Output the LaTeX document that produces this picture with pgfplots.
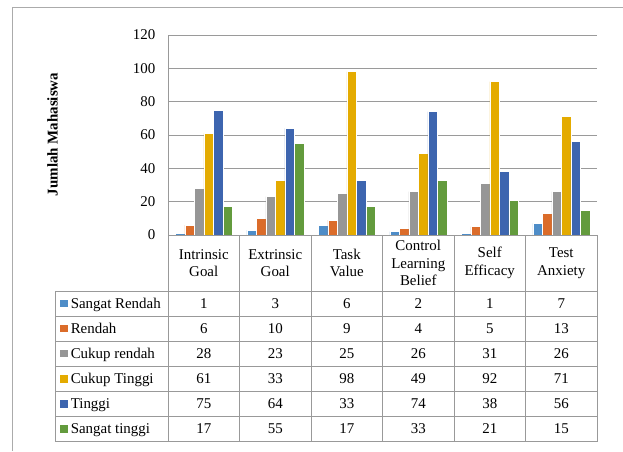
\documentclass[border=0pt]{standalone}
\usepackage{pgfplots}
\pgfplotsset{compat=1.18}
\usepackage{pgfplotstable}
\usepackage{fontspec}
\setmainfont{Liberation Serif}
\definecolor{cSR}{HTML}{4E8DC8}
\definecolor{cR}{HTML}{DB6C2A}
\definecolor{cCR}{HTML}{969696}
\definecolor{cCT}{HTML}{E4AB00}
\definecolor{cT}{HTML}{3D65AF}
\definecolor{cST}{HTML}{639B3D}
\definecolor{gridc}{HTML}{9A9A9A}
\definecolor{tablec}{HTML}{999999}
\definecolor{framec}{HTML}{ABABAB}
\newcommand\tabfont{\fontsize{11.2}{13.1}\selectfont}
\pgfplotstableread{
cat SR R CR CT T ST
0 1 6 28 61 75 17
1 3 10 23 33 64 55
2 6 9 25 98 33 17
3 2 4 26 49 74 33
4 1 5 31 92 38 21
5 7 13 26 71 56 15
}\datatable
\begin{document}
\begin{tikzpicture}[x=0.75pt,y=-0.75pt]
\useasboundingbox (0,0) rectangle (623,451);
\begin{axis}[
  at={(126pt,-176.25pt)}, anchor=south west,
  scale only axis, width=321.75pt, height=150pt,
  xmin=-0.5, xmax=5.5, ymin=0, ymax=120,
  ytick={0,20,...,120}, xtick=\empty,
  ymajorgrids, grid style={draw=gridc, line width=0.75pt},
  axis line style={draw=none}, major tick length=0pt,
  ybar=0pt, bar width=7.125pt,
  yticklabel style={font=\tabfont},
  /pgf/number format/assume math mode=true,
  yticklabel shift=6pt,
  clip=false,
]
\addplot[fill=cSR, draw=white, line width=0.3pt] table[x=cat,y=SR]{\datatable};
\addplot[fill=cR, draw=white, line width=0.3pt] table[x=cat,y=R]{\datatable};
\addplot[fill=cCR, draw=white, line width=0.3pt] table[x=cat,y=CR]{\datatable};
\addplot[fill=cCT, draw=white, line width=0.3pt] table[x=cat,y=CT]{\datatable};
\addplot[fill=cT, draw=white, line width=0.3pt] table[x=cat,y=T]{\datatable};
\addplot[fill=cST, draw=white, line width=0.3pt] table[x=cat,y=ST]{\datatable};
\end{axis}
% frame
\draw[framec, line width=0.75pt] (12,451) -- (12,7) -- (623,7);
% table lines
\draw[tablec, line width=0.75pt] (168,35) -- (168,441.5);
\foreach \x in {239.5,311,382.5,454,525.5,597} \draw[tablec, line width=0.75pt] (\x,235) -- (\x,441.5);
\draw[tablec, line width=0.75pt] (55,291) -- (55,441.5);
\draw[tablec, line width=0.75pt] (168,235) -- (597,235);
\foreach \y in {291,316.1,341.2,366.3,391.4,416.5,441.5} \draw[tablec, line width=0.75pt] (55,\y) -- (597,\y);
% header
\foreach \t [count=\r from 0] in {{Intrinsic\\Goal},{Extrinsic\\Goal},{Task\\Value},{Control\\Learning\\Belief},{Self\\Efficacy},{Test\\Anxiety}}{
  \node[align=center, inner sep=0, font=\tabfont] at (203.75+71.5*\r, 263) {\t};
}
% rows
\foreach \c/\name [count=\i from 0] in {SR/Sangat Rendah, R/Rendah, CR/Cukup rendah, CT/Cukup Tinggi, T/Tinggi, ST/Sangat tinggi}{
  \pgfmathsetmacro\yc{303.5+25.1*\i}
  \fill[c\c] (60,\yc-3.75) rectangle (67.5,\yc+3.75);
  \node[anchor=base west, inner sep=0, font=\tabfont] at (70.5,\yc+4.8) {\name};
  \foreach \r in {0,...,5}{
    \pgfplotstablegetelem{\r}{\c}\of\datatable
    \node[anchor=base, inner sep=0, font=\tabfont] at (203.75+71.5*\r, \yc+4.8) {\pgfplotsretval};
  }
}
% y label
\node[rotate=90, font=\bfseries\tabfont, inner sep=0] at (52.5,134.5) {Jumlah Mahasiswa};
\end{tikzpicture}
\end{document}
